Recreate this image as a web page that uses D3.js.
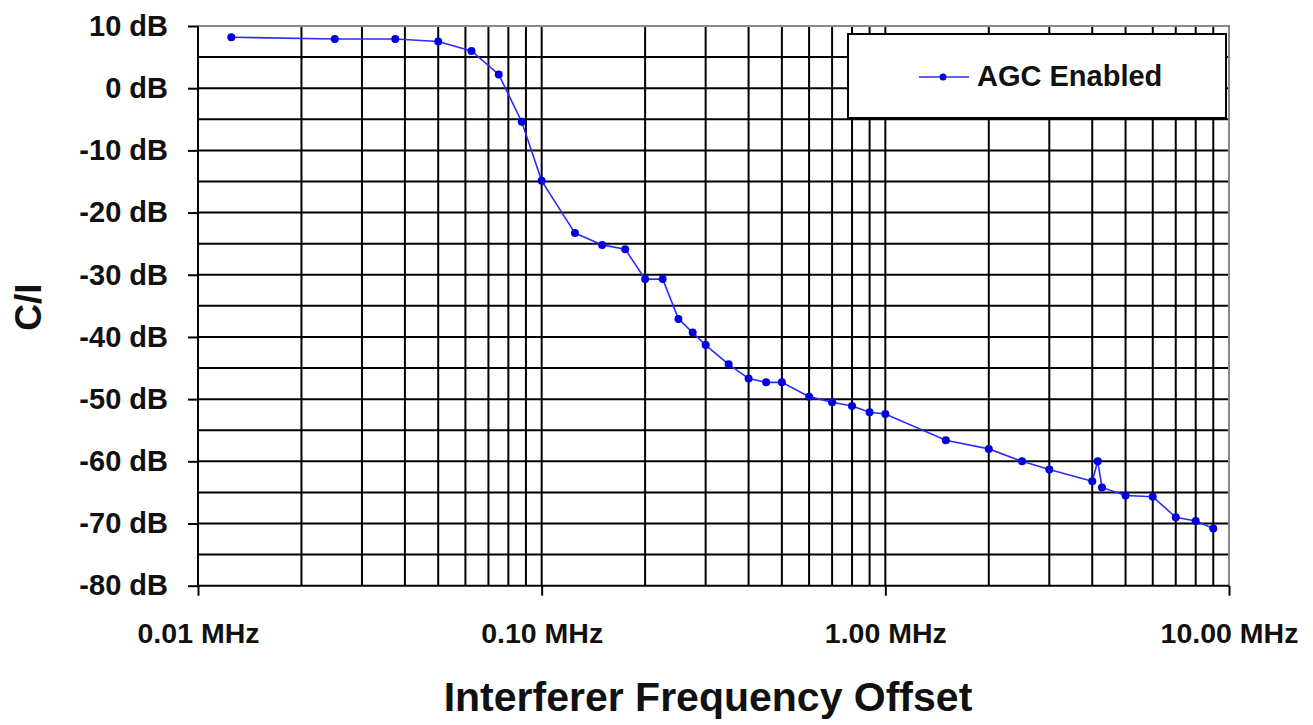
<!DOCTYPE html>
<html lang="en">
<head>
<meta charset="UTF-8">
<title>C/I vs Interferer Frequency Offset</title>
<script src="https://d3js.org/d3.v7.min.js"></script>
<style>
  body { margin: 0; background: #fff; }
  text { font-family: "Liberation Sans", Arial, sans-serif; font-weight: bold; fill: #111; }
</style>
</head>
<body>
<script>
// data
var freqs = [0.0125, 0.025, 0.0375, 0.05, 0.0625, 0.075, 0.0875, 0.1, 0.125, 0.15, 0.175, 0.2,
             0.225, 0.25, 0.275, 0.3, 0.35, 0.4, 0.45, 0.5, 0.6, 0.7, 0.8, 0.9, 1.0, 1.5, 2.0,
             2.5, 3.0, 4.0, 4.15, 4.27, 5.0, 6.0, 7.0, 8.0, 9.0];
var ciValues = [8.2, 7.9, 7.9, 7.5, 6.0, 2.2, -5.4, -14.9, -23.3, -25.2, -25.9, -30.7,
                -30.7, -37.1, -39.3, -41.3, -44.4, -46.7, -47.3, -47.3, -49.6, -50.5, -51.1, -52.1, -52.4, -56.6, -58.0,
                -60.0, -61.3, -63.2, -60.0, -64.2, -65.5, -65.7, -69.0, -69.6, -70.8];
var yTicks = [-80, -70, -60, -50, -40, -30, -20, -10, 0, 10];
var xTicks = [0.01, 0.1, 1, 10];
var xTickLabels = ["0.01 MHz", "0.10 MHz", "1.00 MHz", "10.00 MHz"];
var seriesName = "AGC Enabled";

var width = 1313, height = 725;
// plot edges (note: "top" is a reserved window property, so use other names)
var plotLeft = 198, plotRight = 1229, plotTop = 26, plotBottom = 585.7;

var svg = d3.select("body").append("svg")
    .attr("width", width)
    .attr("height", height);

var x = d3.scaleLog().domain([0.01, 10]).range([plotLeft, plotRight]);
var y = d3.scaleLinear().domain([-80, 10]).range([plotBottom, plotTop]);

// gridlines
var grid = svg.append("g").attr("stroke", "#000").attr("stroke-width", 2);
grid.selectAll(".vg")
    .data(x.ticks().filter(function (d) { return d > 0.0101 && d < 9.99; }))
    .enter().append("line")
    .attr("x1", function (d) { return x(d); })
    .attr("x2", function (d) { return x(d); })
    .attr("y1", plotTop).attr("y2", plotBottom);
grid.selectAll(".hg")
    .data(d3.range(-75, 10, 5))
    .enter().append("line")
    .attr("x1", plotLeft).attr("x2", plotRight)
    .attr("y1", function (d) { return y(d); })
    .attr("y2", function (d) { return y(d); });

// frame: top and right in grey
svg.append("path")
    .attr("d", "M" + plotLeft + "," + plotTop + "H" + plotRight + "V" + plotBottom)
    .attr("fill", "none").attr("stroke", "#8a8a8a").attr("stroke-width", 2);

// axes
var yAxis = d3.axisLeft(y).tickValues(yTicks).tickSize(10).tickPadding(20)
    .tickFormat(function (d) { return d + " dB"; });
var gy = svg.append("g").attr("transform", "translate(" + plotLeft + ",0)").call(yAxis);
gy.select(".domain").remove();
gy.selectAll("line").attr("stroke", "#000").attr("stroke-width", 2);
gy.selectAll("text").attr("font-size", 29).attr("font-family", null).attr("fill", "#111");

var xAxis = d3.axisBottom(x).tickValues(xTicks).tickSize(10).tickPadding(27)
    .tickFormat(function (d, i) { return xTickLabels[i]; });
var gx = svg.append("g").attr("transform", "translate(0," + plotBottom + ")").call(xAxis);
gx.select(".domain").remove();
gx.selectAll("line").attr("stroke", "#000").attr("stroke-width", 2);
gx.selectAll("text").attr("font-size", 28.5).attr("font-family", null).attr("fill", "#111");

svg.append("line").attr("x1", plotLeft).attr("x2", plotLeft).attr("y1", plotTop).attr("y2", plotBottom)
    .attr("stroke", "#000").attr("stroke-width", 2);
svg.append("line").attr("x1", plotLeft).attr("x2", plotRight).attr("y1", plotBottom).attr("y2", plotBottom)
    .attr("stroke", "#000").attr("stroke-width", 2);

// axis titles
svg.append("text")
    .attr("transform", "translate(41,307) rotate(-90)")
    .attr("text-anchor", "middle")
    .attr("font-size", 37)
    .text("C/I");
svg.append("text")
    .attr("x", 708).attr("y", 711)
    .attr("text-anchor", "middle")
    .attr("font-size", 41)
    .text("Interferer Frequency Offset");

// data series
var points = freqs.map(function (f, i) { return { f: f, v: ciValues[i] }; });
var line = d3.line()
    .x(function (d) { return x(d.f); })
    .y(function (d) { return y(d.v); });

svg.append("path")
    .datum(points)
    .attr("d", line)
    .attr("fill", "none")
    .attr("stroke", "#2b2bff")
    .attr("stroke-width", 1.6);

svg.selectAll(".pt")
    .data(points)
    .enter().append("circle")
    .attr("cx", function (d) { return x(d.f); })
    .attr("cy", function (d) { return y(d.v); })
    .attr("r", 4)
    .attr("fill", "#0000e0");

// legend
var lg = svg.append("g");
lg.append("rect")
    .attr("x", 848).attr("y", 34).attr("width", 378).attr("height", 84)
    .attr("fill", "#fff").attr("stroke", "#000").attr("stroke-width", 2);
lg.append("line")
    .attr("x1", 919).attr("x2", 969).attr("y1", 77).attr("y2", 77)
    .attr("stroke", "#2b2bff").attr("stroke-width", 1.6);
lg.append("circle").attr("cx", 943).attr("cy", 77).attr("r", 3.5).attr("fill", "#0000e0");
lg.append("text")
    .attr("x", 977).attr("y", 86)
    .attr("font-size", 29)
    .text(seriesName);
</script>
</body>
</html>
